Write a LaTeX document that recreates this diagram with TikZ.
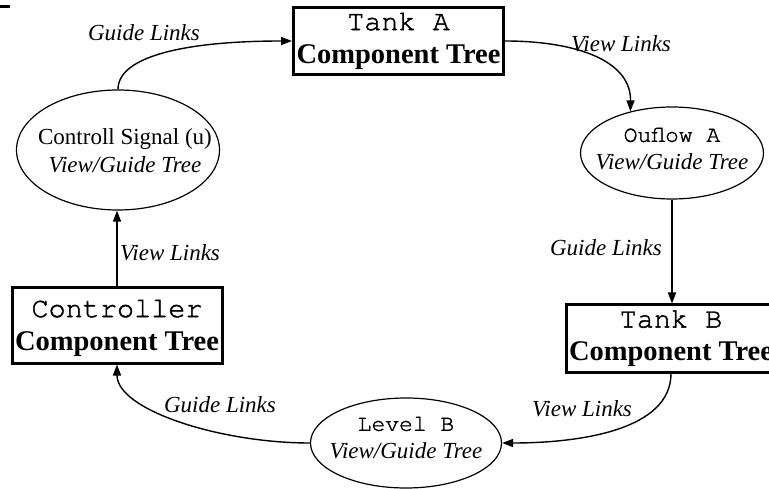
\documentclass[tikz,border=0pt]{standalone}
\usepackage{fontspec}
\setmainfont{Liberation Serif}
\newfontfamily\monofont[FakeBold=1.5]{TeX Gyre Cursor}
\usetikzlibrary{shapes.geometric,arrows.meta}
\tikzset{
  compbox/.style={draw, line width=3pt, minimum width=210pt, minimum height=67pt,
    inner sep=0pt, align=center, font=\fontsize{28.5}{33}\selectfont},
  viewell/.style={draw, ellipse, line width=1.2pt, inner sep=0pt},
  elltext/.style={inner sep=0pt, align=center, font=\fontsize{23}{28}\selectfont},
  link/.style={line width=1.4pt, -{Triangle[length=11pt,width=8pt]}},
  lbl/.style={font=\fontsize{23}{27}\selectfont\itshape, inner sep=0pt},
}
\begin{document}
\begin{tikzpicture}[x=1pt,y=-1pt]
\path[use as bounding box, fill=white] (0,0) rectangle (769,489);
\clip (0,0) rectangle (769,489);

% corner mark
\coordinate (m0) at (0,6.5);
\coordinate (m1) at (10,6.5);
\draw[line width=3pt] (m0) -- (m1);

% component trees
\node[compbox] (ta) at (398.5,41) {{\monofont Tank A}\\\textbf{Component Tree}};
\node[compbox] (tb) at (671,338.5) {{\monofont Tank B}\\\textbf{Component Tree}};
\node[compbox, minimum height=75pt] (ctrl) at (117,325.5) {};
\node[inner sep=0pt, align=center, font=\fontsize{28.5}{33}\selectfont] (ctrlt) at (117,328)
  {{\monofont Controller}\\\textbf{Component Tree}};

% view/guide trees: outline, then its two lines of text
\node[viewell, minimum width=183pt, minimum height=92pt] (oa) at (672,153) {};
\node[elltext] (oat) at (672,149) {{\monofont Ouflow A}\\\textit{View/Guide Tree}};
\node[viewell, minimum width=191pt, minimum height=90pt] (lb) at (406,443) {};
\node[elltext] (lbt) at (406,438) {{\monofont Level B}\\\textit{View/Guide Tree}};
\node[viewell, minimum width=203pt, minimum height=120pt] (cs) at (118,150) {};
\node[elltext] (cst) at (125,151) {Controll Signal (u)\\\textit{View/Guide Tree}};

% links
\draw[link] (cs.north) .. controls (118,55) and (190,41) .. (ta.west);
\draw[link] (ta.east) .. controls (575,41) and (631,60) .. (oa.135);
\draw[link] (oa.south) -- (oa.south |- tb.north);
\draw[link] (tb.south) .. controls (671,430) and (580,443) .. (lb.east);
\draw[link] (lb.west) .. controls (220,443) and (117,410) .. (ctrl.south);
\draw[link] (ctrl.north) -- (ctrl.north |- cs.south);

% link labels
\node[lbl] (g1) at (144,33) {Guide Links};
\node[lbl] (v1) at (621,44) {View Links};
\node[lbl] (g2) at (606,248) {Guide Links};
\node[lbl] (v2) at (582,409) {View Links};
\node[lbl] (g3) at (220,405) {Guide Links};
\node[lbl] (v3) at (170,253) {View Links};
\end{tikzpicture}
\end{document}
